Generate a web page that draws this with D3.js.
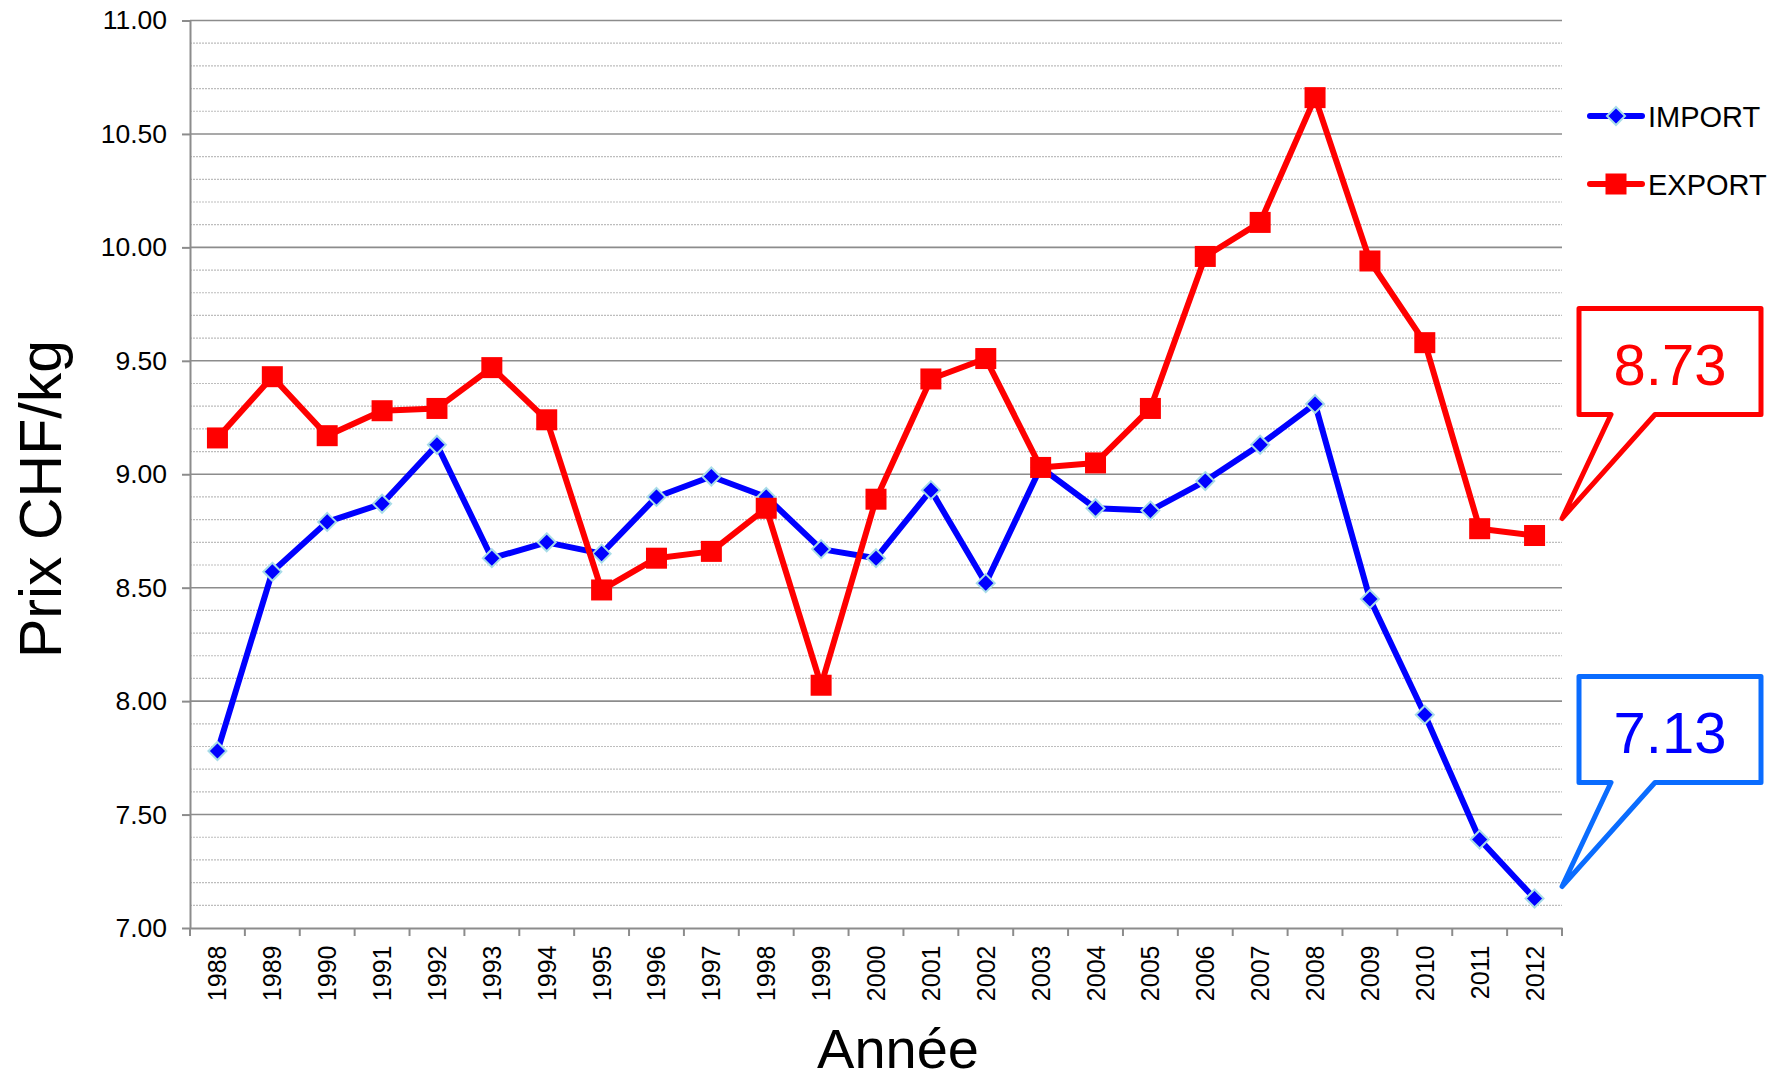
<!DOCTYPE html>
<html>
<head>
<meta charset="utf-8">
<script src="https://cdn.jsdelivr.net/npm/d3@7"></script>
<style>
  body { margin: 0; background: #fff; }
  svg { display: block; font-family: "Liberation Sans", Arial, sans-serif; }
</style>
</head>
<body>
<svg id="chart" width="1784" height="1081"></svg>
<script>
"use strict";

// years on the x axis
var years = ["1988", "1989", "1990", "1991", "1992", "1993", "1994", "1995", "1996",
    "1997", "1998", "1999", "2000", "2001", "2002", "2003", "2004", "2005", "2006",
    "2007", "2008", "2009", "2010", "2011", "2012"];

// prix CHF/kg
var importVals = [7.78, 8.57, 8.79, 8.87, 9.13, 8.63, 8.70, 8.65, 8.90, 8.99, 8.90, 8.67,
    8.63, 8.93, 8.52, 9.03, 8.85, 8.84, 8.97, 9.13, 9.31, 8.45, 7.94, 7.39, 7.13];
var exportVals = [9.16, 9.43, 9.17, 9.28, 9.29, 9.47, 9.24, 8.49, 8.63, 8.66, 8.85, 8.07,
    8.89, 9.42, 9.51, 9.03, 9.05, 9.29, 9.96, 10.11, 10.66, 9.94, 9.58, 8.76, 8.73];

var yMajor = [7, 7.5, 8, 8.5, 9, 9.5, 10, 10.5, 11];
var yMinor = d3.range(7, 11.001, 0.1);

var seriesNames = ["IMPORT", "EXPORT"];

// last values shown in the callouts
var callouts = [
    { label: "8.73", value: 8.73, box: "#ff0000", text: "#ff0000", lift: 17 },
    { label: "7.13", value: 7.13, box: "#0a6cff", text: "#0000ff", lift: 12 }
];

var svg = d3.select("#chart");

var plotLeft = 190, plotRight = 1562, plotTop = 20.5, plotBottom = 928;

var x = d3.scaleBand().domain(years).range([plotLeft, plotRight]);
var y = d3.scaleLinear().domain([7, 11]).range([plotBottom, plotTop]);
var cx = function(yr) { return x(yr) + x.bandwidth() / 2; };

// minor grid
svg.append("g").selectAll("line")
    .data(yMinor.filter(function(v) { return Math.abs(v * 2 - Math.round(v * 2)) > 0.01; }))
    .enter().append("line")
    .attr("x1", plotLeft).attr("x2", plotRight)
    .attr("y1", function(d) { return y(d); }).attr("y2", function(d) { return y(d); })
    .attr("stroke", "#bdbdbd").attr("stroke-width", 1.2).attr("stroke-dasharray", "2,1");

// major grid
svg.append("g").selectAll("line")
    .data(yMajor.slice(1))
    .enter().append("line")
    .attr("x1", plotLeft).attr("x2", plotRight)
    .attr("y1", function(d) { return y(d); }).attr("y2", function(d) { return y(d); })
    .attr("stroke", "#8c8c8c").attr("stroke-width", 1.6);

// y axis
var yAxis = svg.append("g")
    .attr("transform", "translate(" + plotLeft + ",0)")
    .call(d3.axisLeft(y).tickValues(yMajor).tickFormat(d3.format(".2f")).tickSize(8).tickSizeOuter(0).tickPadding(15));
yAxis.selectAll("path, line").attr("stroke", "#8c8c8c").attr("stroke-width", 2);
yAxis.selectAll("text").attr("font-size", 26.5).attr("fill", "#000")
    .attr("font-family", "'Liberation Sans', Arial, sans-serif");

// x axis
var xAxis = svg.append("g")
    .attr("transform", "translate(0," + plotBottom + ")")
    .call(d3.axisBottom(x).tickSize(0).tickSizeOuter(0));
xAxis.select("path").attr("stroke", "#8c8c8c").attr("stroke-width", 2);
xAxis.selectAll("text")
    .attr("font-size", 25).attr("fill", "#000")
    .attr("font-family", "'Liberation Sans', Arial, sans-serif")
    .attr("text-anchor", "end")
    .attr("transform", "translate(0,17.5) rotate(-90)")
    .attr("x", 0).attr("y", 0).attr("dy", "0.36em");

// boundary ticks
svg.append("g").selectAll("line")
    .data(years.map(function(d) { return x(d); }).concat([plotRight]))
    .enter().append("line")
    .attr("x1", function(d) { return d; }).attr("x2", function(d) { return d; })
    .attr("y1", plotBottom).attr("y2", plotBottom + 8)
    .attr("stroke", "#8c8c8c").attr("stroke-width", 2);

// axis titles
svg.append("text")
    .attr("transform", "translate(61,499) rotate(-90)")
    .attr("text-anchor", "middle")
    .attr("font-size", 59)
    .text("Prix CHF/kg");

svg.append("text")
    .attr("x", 898).attr("y", 1068)
    .attr("text-anchor", "middle")
    .attr("font-size", 56)
    .text("Année");

var diamond = function(r) { return "M0," + (-r) + "L" + r + ",0L0," + r + "L" + (-r) + ",0Z"; };

var line = d3.line()
    .x(function(d, i) { return cx(years[i]); })
    .y(function(d) { return y(d); });

// import series
svg.append("path").datum(importVals)
    .attr("d", line).attr("fill", "none")
    .attr("stroke", "#0000ff").attr("stroke-width", 6).attr("stroke-linejoin", "round");
svg.append("g").selectAll("path")
    .data(importVals).enter().append("path")
    .attr("transform", function(d, i) { return "translate(" + cx(years[i]) + "," + y(d) + ")"; })
    .attr("d", diamond(9))
    .attr("fill", "#0000ff").attr("stroke", "#a8dce8").attr("stroke-width", 2);

// export series
svg.append("path").datum(exportVals)
    .attr("d", line).attr("fill", "none")
    .attr("stroke", "#ff0000").attr("stroke-width", 6).attr("stroke-linejoin", "round");
svg.append("g").selectAll("rect")
    .data(exportVals).enter().append("rect")
    .attr("x", function(d, i) { return cx(years[i]) - 10.5; })
    .attr("y", function(d) { return y(d) - 10.5; })
    .attr("width", 21).attr("height", 21)
    .attr("fill", "#ff0000");

// legend
var legend = svg.append("g");
var legY = [116, 184];
seriesNames.forEach(function(name, i) {
    var col = i === 0 ? "#0000ff" : "#ff0000";
    legend.append("line")
        .attr("x1", 1590).attr("x2", 1642).attr("y1", legY[i]).attr("y2", legY[i])
        .attr("stroke", col).attr("stroke-width", 6).attr("stroke-linecap", "round");
    if (i === 0) {
        legend.append("path").attr("transform", "translate(1616," + legY[i] + ")")
            .attr("d", diamond(9)).attr("fill", col).attr("stroke", "#a8dce8").attr("stroke-width", 2);
    } else {
        legend.append("rect").attr("x", 1616 - 10.5).attr("y", legY[i] - 10.5)
            .attr("width", 21).attr("height", 21).attr("fill", col);
    }
    legend.append("text")
        .attr("x", 1648).attr("y", legY[i] + 10.5)
        .attr("font-size", 29)
        .text(name);
});

// callouts
callouts.forEach(function(c) {
    var tx = plotRight, ty = y(c.value) - c.lift;
    var p = d3.path();
    p.moveTo(tx + 49, ty - 104);
    p.lineTo(tx + 17, ty - 104);
    p.lineTo(tx + 17, ty - 210);
    p.lineTo(tx + 199, ty - 210);
    p.lineTo(tx + 199, ty - 104);
    p.lineTo(tx + 93, ty - 104);
    p.lineTo(tx, ty);
    p.closePath();
    svg.append("path").attr("d", p.toString())
        .attr("fill", "#fff").attr("stroke", c.box)
        .attr("stroke-width", 5).attr("stroke-linejoin", "round");
    svg.append("text")
        .attr("x", tx + 108).attr("y", ty - 134)
        .attr("text-anchor", "middle")
        .attr("font-size", 58).attr("fill", c.text)
        .text(c.label);
});
</script>
</body>
</html>
